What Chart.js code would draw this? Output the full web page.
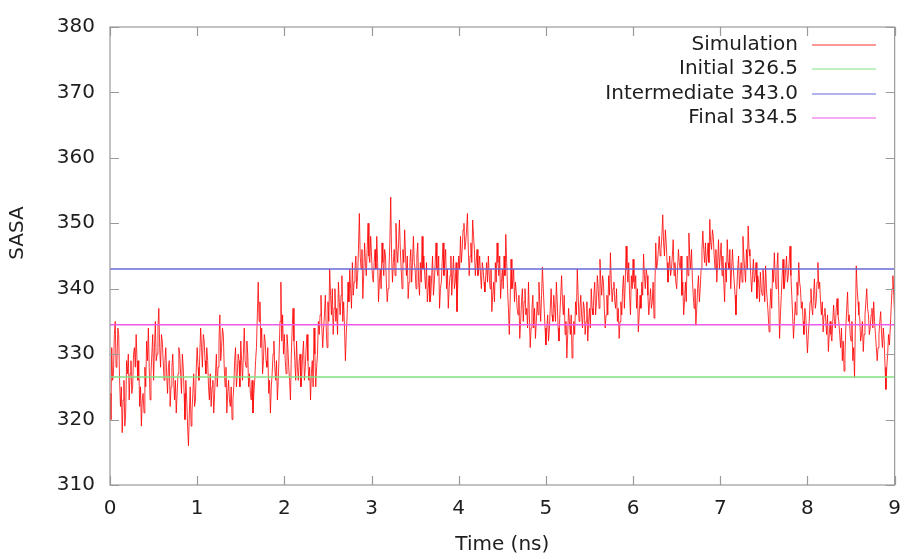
<!DOCTYPE html>
<html>
<head>
<meta charset="utf-8">
<title>SASA vs time</title>
<script src="https://cdn.jsdelivr.net/npm/chart.js@4/dist/chart.umd.min.js"></script>
<style>
  html, body { margin: 0; padding: 0; background: #ffffff; }
  canvas { display: block; }
</style>
</head>
<body>
<canvas id="c" width="913" height="555"></canvas>
<script>
// Sampling of the trajectory (ns)
const T_START = 0;
const T_STEP = 0.01;

// Solvent accessible surface area, one value per frame (rows of 0.2 ns)
const sasa = [
  324,320,331,326,327,333,335,328,329,334,333,326,322,325,318,323,326,319,321,329,
  327,330,323,327,329,324,325,330,331,328,333,329,326,329,322,325,319,323,324,321,
  328,325,332,329,334,328,323,327,330,333,326,331,335,329,330,334,337,331,328,333,
  332,329,326,329,331,327,324,328,329,322,325,328,330,326,323,326,321,324,327,331,
  330,327,324,330,328,324,320,326,323,319,316,321,325,319,321,324,327,322,323,328,
  331,328,326,330,334,331,328,333,332,329,327,331,329,325,323,327,322,325,326,321,
  324,327,330,325,328,332,336,329,331,334,333,328,325,328,321,324,326,323,322,325,
  320,323,325,329,331,325,327,330,329,325,332,329,326,330,334,329,328,332,330,325,
  327,324,323,326,321,324,326,329,331,336,341,335,338,331,334,327,329,333,332,329,
  328,331,324,326,321,325,327,330,332,328,326,329,323,326,330,335,341,332,336,330,
  333,329,327,333,331,328,326,323,330,334,337,332,329,326,332,328,326,329,330,325,
  327,330,332,326,328,331,333,329,326,328,323,327,329,325,334,330,325,328,330,335,
  333,336,339,334,331,334,336,339,334,331,338,335,343,339,336,340,333,337,340,335,
  337,333,341,338,336,339,342,335,338,334,329,333,336,341,338,343,340,337,344,339,
  341,343,345,340,342,346,351.5,345,343,346,338.5,342,347,344,342,346,350,345,344,348,
  345,342,341,344,346,343,348,344,338,341,343,340,347,344,342,346,345,341,338,340,
  343,347,354,345,341,344,346,342,350,346,344,347,350.5,346,343,340,346,344,349,345,
  342,345,338.5,341,344,346,341,344,348,344,343,340,345,347,341,339,344,341,348,343,
  345,342,340,344,338,340,342,338,339,342,345,339,341,344,347,343,342,345,337,340,
  341,344,347,342,344,346,340,343,337,340,342,345,339,342,345,340,341,344,336.5,341,
  345,343,348,344,346,349,350,346,347,349,351.5,346,342,345,347,344,350.5,348,346,342,
  344,346,342,343,345,342,340,344,343,341,339.5,342,344,341,345,342,340,343,336.5,339,
  341,338,344,341,347,344,342,345,338.5,341,343,340,345,342,348.3,344,340,337,333,338,
  344.5,340,341,343,338,341,339.5,337,336,339,332.4,335,338,340,335,338,340,336,337,334,
  341,336,331,334,337,339,334,337,332.4,335,338,336,341,338,335,339,343.3,340,337,334,
  331.4,334,336,332,334,337,340,336,335,339,337,335,341,338,334,332,336,339,342,338,
  336,339,333,335,329.4,333,337,335,333,336,329.4,332,335,333,338,336,343,339,335,337,
  339,336,334,338,337,333,335,338,332,335,337,334,340,337,336,339,341,336,338,342,
  340,337,344.5,341,339,342,341,337,334,336,339,336,342,339,345.5,341,338,340,341,338,
  337,340,335,337,332.4,335,338,336,340,342,337,341,346.5,343,341,344,339,336,342,340,
  344.5,341,340,342,337,340,333.4,336,339,337,341,339,345.3,342,340,343,342,339,336,338,
  340,337,338,341,335.5,340,347,343,344,346,348,345,346,348,351.3,347,345,349,347,344,
  341,343,345,342,343,345,347.5,342,344,341,340,343,346,344,343,345,339,341,336,338,
  341,338,345,342,348.5,345,343,346,341.5,339,337,340,334.4,337,340,342,338,340,343,346,
  348.8,346,344,347,343.5,345,347,344,350.6,347,346,349,348,345,343,346,341,344,347.5,343,
  345,347,342,345,341,338,344,341,347.5,344,343,346,340,343,346,343,341,339,336,340,
  343,345,340,342,344,341,348,345,343,341,346,343,349.6,346,345,342,339.5,342,344.5,341,
  342,344,338.5,342,341,338,342.5,340,339,343,341,338,343.5,340,338,336,333.4,337,340,337,
  343,341,345.5,342,340,343,345.5,339,332.4,336,339,342,344.5,340,341,343,345,341,342,344,
  346.5,342,339,336,332.4,335,338,336,341,339,344,341,340,337,338,335,333,337,336,333,
  330.2,333,335,338,340,337,336,339,341.5,337,338,341,344,340,341,338,336,338,333.4,336,
  337,335,333,336,330.4,333,335,333,332,335,337.5,335,334,337,338.5,336,335,333,331,334,
  329,332,327.4,330,334,337,339.5,335,336,333,332,335,329,331,326.4,335,343.5,340,338,336,
  335.5,332,333,335,330.4,333,336,338,340,337,336,333,334,336,337,334,338,335,333,331,
  329,331,333,335,336.5,333,331,334,332,328,324.6,328,330,333,331.4,334,337,340,342,339,
  336
];

// Reference states
const refNames  = ['Initial', 'Intermediate', 'Final'];
const refValues = [326.5, 343.0, 334.5];
const refColors = ['rgb(130,225,130)', 'rgb(105,105,215)', 'rgb(235,90,235)'];

// Axis ranges and ticks
const X_MIN = 0, X_MAX = 9, X_STEP = 1;
const Y_MIN = 310, Y_MAX = 380, Y_STEP = 10;

const FONT = { family: 'DejaVu Sans', size: 20 };
const TEXT = '#1e1e1e';

const simPoints = sasa.map((v, i) => ({ x: T_START + i * T_STEP, y: v }));

const datasets = [{
  label: 'Simulation',
  data: simPoints,
  borderColor: 'rgba(255,0,0,0.8)',
  borderWidth: 1,
  pointRadius: 0,
  tension: 0,
  order: 10
}];
refNames.forEach((name, k) => {
  datasets.push({
    label: name + ' ' + refValues[k].toFixed(1),
    data: [{ x: X_MIN, y: refValues[k] }, { x: X_MAX, y: refValues[k] }],
    borderColor: refColors[k],
    borderWidth: 1.5,
    pointRadius: 0,
    tension: 0,
    order: k
  });
});

// Plot frame with inward tick marks on all four sides
const framePlugin = {
  id: 'frame',
  afterDatasetsDraw(chart) {
    const { ctx, chartArea: a, scales } = chart;
    const len = 9;
    ctx.save();
    ctx.strokeStyle = '#9a9a9a';
    ctx.lineWidth = 1.2;
    ctx.beginPath();
    scales.x.ticks.forEach(t => {
      const px = Math.round(scales.x.getPixelForValue(t.value)) + 0.5;
      ctx.moveTo(px, a.bottom); ctx.lineTo(px, a.bottom - len);
      ctx.moveTo(px, a.top); ctx.lineTo(px, a.top + len);
    });
    scales.y.ticks.forEach(t => {
      const py = Math.round(scales.y.getPixelForValue(t.value)) + 0.5;
      ctx.moveTo(a.left, py); ctx.lineTo(a.left + len, py);
      ctx.moveTo(a.right, py); ctx.lineTo(a.right - len, py);
    });
    ctx.stroke();
    ctx.strokeRect(a.left, a.top, a.right - a.left, a.bottom - a.top);
    ctx.restore();
  }
};

// Key in the upper right: label, then a short line sample
const keyPlugin = {
  id: 'key',
  afterDraw(chart) {
    const { ctx } = chart;
    const textRight = 798, lineFrom = 812, lineTo = 876, y0 = 45, dy = 24.4;
    ctx.save();
    ctx.font = FONT.size + 'px "' + FONT.family + '"';
    ctx.textAlign = 'right';
    ctx.textBaseline = 'middle';
    chart.data.datasets.forEach((ds, i) => {
      const y = Math.round(y0 + i * dy);
      ctx.fillStyle = TEXT;
      ctx.fillText(ds.label, textRight, y);
      ctx.strokeStyle = ds.borderColor;
      ctx.lineWidth = 1.2;
      ctx.beginPath();
      ctx.moveTo(lineFrom, y);
      ctx.lineTo(lineTo, y);
      ctx.stroke();
    });
    ctx.restore();
  }
};

// Vertical axis title
const yTitlePlugin = {
  id: 'yTitle',
  afterDraw(chart) {
    const { ctx } = chart;
    ctx.save();
    ctx.translate(18, 233);
    ctx.rotate(-Math.PI / 2);
    ctx.font = FONT.size + 'px "' + FONT.family + '"';
    ctx.fillStyle = TEXT;
    ctx.textAlign = 'center';
    ctx.textBaseline = 'middle';
    ctx.fillText('SASA', 0, 0);
    ctx.restore();
  }
};

new Chart(document.getElementById('c'), {
  type: 'line',
  data: { datasets },
  options: {
    responsive: false,
    animation: false,
    devicePixelRatio: 1,
    layout: { padding: { top: 22, right: 11, left: 0, bottom: 0 } },
    plugins: { legend: { display: false }, tooltip: { enabled: false } },
    scales: {
      x: {
        type: 'linear',
        min: X_MIN, max: X_MAX,
        grid: { display: false, drawTicks: false },
        border: { display: false },
        ticks: { stepSize: X_STEP, padding: 12, color: TEXT, font: FONT, maxRotation: 0 },
        title: { display: true, text: 'Time (ns)', color: TEXT,
                 font: { family: FONT.family, size: FONT.size, lineHeight: 1.0 },
                 padding: { top: 0, bottom: 0 } },
        afterFit(s) { s.height = 70; }
      },
      y: {
        type: 'linear',
        min: Y_MIN, max: Y_MAX,
        grid: { display: false, drawTicks: false },
        border: { display: false },
        ticks: { stepSize: Y_STEP, padding: 15, color: TEXT, font: FONT },
        title: { display: false },
        afterFit(s) { s.width = 110; }
      }
    }
  },
  plugins: [framePlugin, keyPlugin, yTitlePlugin]
});
</script>
</body>
</html>
